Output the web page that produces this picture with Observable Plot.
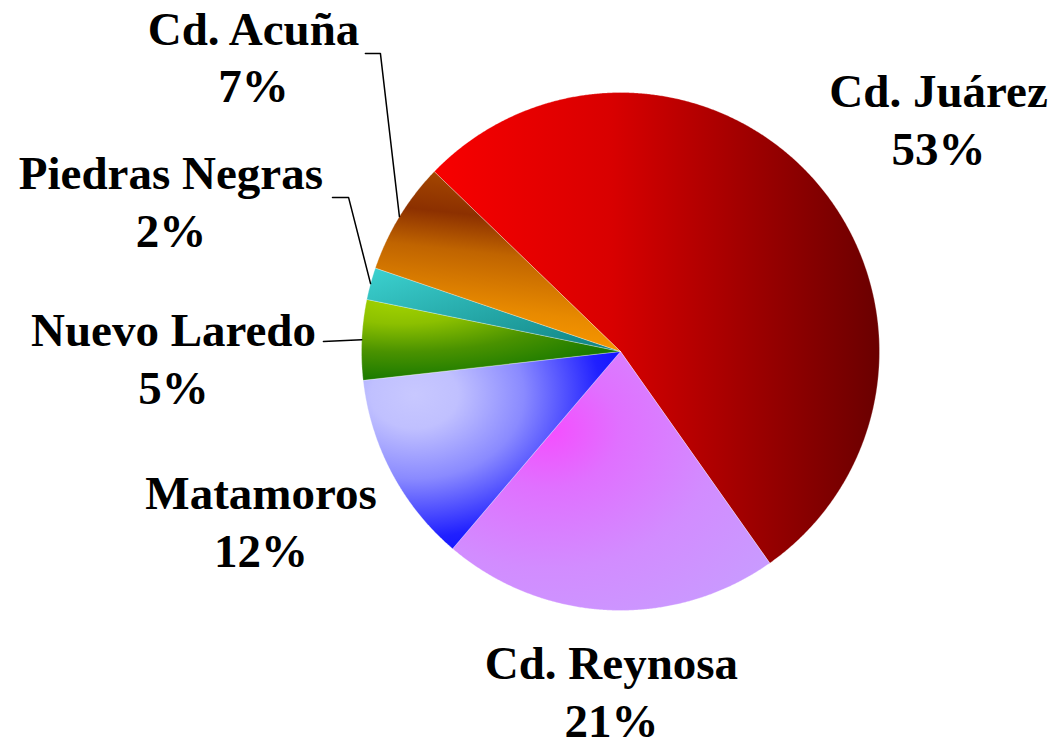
<!DOCTYPE html>
<html><head><meta charset="utf-8">
<script src="https://cdn.jsdelivr.net/npm/d3@7"></script>
<script src="https://cdn.jsdelivr.net/npm/@observablehq/plot@0.6"></script>
<style>html,body{margin:0;padding:0;background:#fff;overflow:hidden}</style>
</head><body><div id="chart"></div>
<script>
// ---- data ----
const cities = ["Cd. Juárez", "Cd. Reynosa", "Matamoros", "Nuevo Laredo", "Piedras Negras", "Cd. Acuña"];
const shares = [53, 21, 12, 5, 2, 7];
const shareLabels = ["53%", "21%", "12%", "5%", "2%", "7%"];

// ---- layout (pie-radius units, centre = 0,0) ----
const W = 1054, H = 741, CX = 620, CY = 351, R = 259;
const firstSliceDeg = -46;
const labelAt = [[1.228, 0.905], [-0.035, -1.305], [-1.388, -0.648], [-1.726, -0.019], [-1.736, 0.587], [-1.417, 1.145]];
// leader: [startX, startY, elbowX] or null
const leaders = [null, null, null, [-1.147, 0.039, -1.147], [-1.112, 0.595, -1.050], [-0.985, 1.151, -0.927]];

// ---- gradients (one per slice, bounding-box units) ----
const gradients = [
  {type: "linear", x1: 0, y1: 0, x2: 1, y2: 0, stops: [[0, "#f80000"], [0.4, "#d80000"], [0.7, "#a00000"], [1, "#6a0000"]]},
  {type: "radial", cx: 0.3, cy: 0.3, r: 0.9, stops: [[0, "#f54dff"], [0.25, "#e070ff"], [0.6, "#d28cff"], [1, "#c89cff"]]},
  {type: "radial", cx: 0.2, cy: 0.22, r: 0.85, stops: [[0, "#c8c8ff"], [0.2, "#c0c0ff"], [0.5, "#8a8aff"], [0.85, "#2020ff"], [1, "#1010ff"]]},
  {type: "radial", cx: 0.15, cy: 0, r: 1, stops: [[0, "#a4d400"], [0.3, "#8cc000"], [0.65, "#4a9200"], [1, "#1a7a00"]]},
  {type: "linear", x1: 0, y1: 0, x2: 1, y2: 1, stops: [[0, "#3cd2d0"], [0.4, "#2ab0b0"], [1, "#0e8080"]]},
  {type: "linear", x1: 0.5, y1: 0, x2: 0.35, y2: 1, stops: [[0, "#a84a00"], [0.25, "#8c3000"], [0.45, "#c06400"], [0.75, "#e88a00"], [1, "#ff9c00"]]}
];

// ---- build geometry from data ----
const start = firstSliceDeg * Math.PI / 180;
const arcs = d3.pie().sort(null).startAngle(start).endAngle(start + 2 * Math.PI)(shares);
const slicePolys = arcs.map((a, i) => {
  const pts = [{x: 0, y: 0}];
  const n = Math.max(8, Math.ceil((a.endAngle - a.startAngle) / 0.005));
  for (let k = 0; k <= n; k++) {
    const t = a.startAngle + (a.endAngle - a.startAngle) * k / n;
    pts.push({x: Math.sin(t), y: Math.cos(t)});
  }
  pts.push({x: 0, y: 0});
  return pts;
});

const labelRows = cities.map((c, i) => ({x: labelAt[i][0], y: labelAt[i][1], text: c + "\n" + shareLabels[i]}));

const leaderPts = [];
arcs.forEach((a, i) => {
  const L = leaders[i];
  if (!L) return;
  const mid = (a.startAngle + a.endAngle) / 2;
  leaderPts.push({id: i, x: L[0], y: L[1]});
  leaderPts.push({id: i, x: L[2], y: L[1]});
  leaderPts.push({id: i, x: Math.sin(mid), y: Math.cos(mid)});
});

const chart = Plot.plot({
  width: W, height: H,
  margin: 0,
  x: {domain: [(0 - CX) / R, (W - CX) / R], axis: null},
  y: {domain: [(CY - H) / R, CY / R], axis: null},
  marks: [
    ...slicePolys.map((pts, i) => Plot.line(pts, {
      x: "x", y: "y", fill: `url(#slice-grad-${i})`, stroke: "white", strokeWidth: 0.6, strokeOpacity: 0.5
    })),
    Plot.line(leaderPts, {x: "x", y: "y", z: "id", stroke: "black", strokeWidth: 1.5}),
    Plot.text(labelRows, {
      x: "x", y: "y", text: "text", fontSize: 47, fontWeight: "bold",
      fontFamily: "'Liberation Serif', 'Times New Roman', serif",
      lineHeight: 1.234, textAnchor: "middle", fill: "black"
    })
  ]
});

const defs = d3.select(chart).insert("defs", ":first-child");
gradients.forEach((g, i) => {
  let el;
  if (g.type === "linear") {
    el = defs.append("linearGradient").attr("x1", g.x1).attr("y1", g.y1).attr("x2", g.x2).attr("y2", g.y2);
  } else {
    el = defs.append("radialGradient").attr("cx", g.cx).attr("cy", g.cy).attr("r", g.r).attr("fx", g.cx).attr("fy", g.cy);
  }
  el.attr("id", `slice-grad-${i}`);
  g.stops.forEach(([o, c]) => el.append("stop").attr("offset", o).attr("stop-color", c));
});

document.getElementById("chart").appendChild(chart);
</script>
</body></html>
